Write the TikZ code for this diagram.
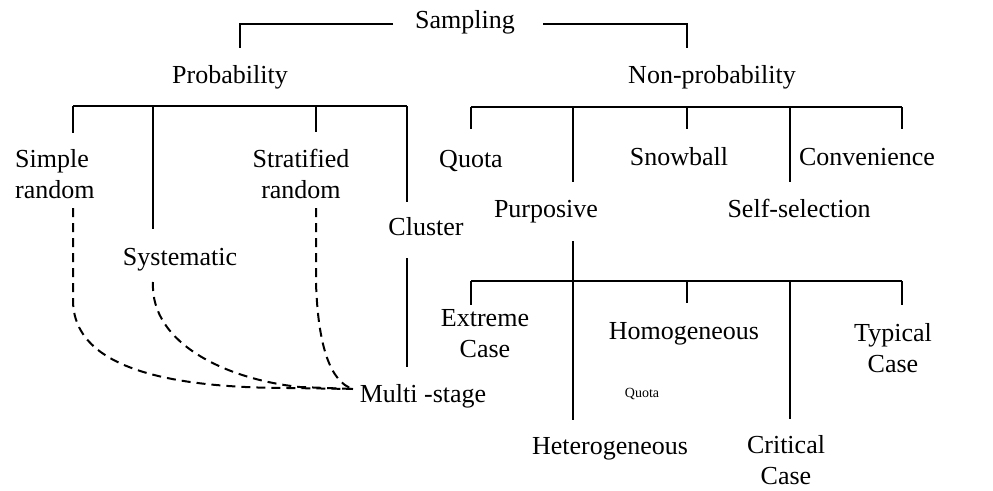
\documentclass[tikz,border=0pt]{standalone}
\usepackage{fontspec}
\setmainfont{Liberation Serif}
\begin{document}
\begin{tikzpicture}[x=1pt,y=-1pt,
  lbl/.style={font=\fontsize{26}{31}\selectfont, align=center, inner sep=0pt},
  small/.style={font=\fontsize{14}{16}\selectfont, inner sep=0pt},
  ln/.style={line width=1.9pt},
  dsh/.style={line width=2pt, dash pattern=on 9pt off 6pt}]
\useasboundingbox (0,0) rectangle (993,490);
% labels
\node[lbl, anchor=base] (samp) at (465,28) {Sampling};
\node[lbl, anchor=base] (prob) at (230,83) {Probability};
\node[lbl, anchor=base] (nonp) at (712,83) {Non-probability};
\node[lbl, align=left, anchor=west] (simp) at (15,174) {Simple\\random};
\node[lbl] (strat) at (301,174) {Stratified\\random};
\node[lbl, anchor=base] (syst) at (180,265) {Systematic};
\node[lbl, anchor=base] (clus) at (426,235) {Cluster};
\node[lbl, anchor=base] (multi) at (423,402) {Multi -stage};
\node[lbl, anchor=base] (quota) at (471,167) {Quota};
\node[lbl, anchor=base] (snow) at (679,165) {Snowball};
\node[lbl, anchor=base] (conv) at (867,165) {Convenience};
\node[lbl, anchor=base] (purp) at (546,217) {Purposive};
\node[lbl, anchor=base] (self) at (799,217) {Self-selection};
\node[lbl] (extr) at (485,334) {Extreme\\Case};
\node[lbl, anchor=base] (homo) at (684,339) {Homogeneous};
\node[lbl] (typ) at (893,348) {Typical\\Case};
\node[small, anchor=base] (quota2) at (642,397) {Quota};
\node[lbl, anchor=base] (hete) at (610,454) {Heterogeneous};
\node[lbl] (crit) at (786,460) {Critical\\Case};
% coordinates
\coordinate (sL) at (393,24); \coordinate (sR) at (543,24);
\coordinate (pTop) at (240,48); \coordinate (nTop) at (687,48);
\coordinate (pb1) at (73,106); \coordinate (pb2) at (153,106);
\coordinate (pb3) at (316,106); \coordinate (pb4) at (407,106);
\coordinate (simpTop) at (73,133); \coordinate (systTop) at (153,229);
\coordinate (stratTop) at (316,132); \coordinate (clusTop) at (407,202);
\coordinate (clusBot1) at (407,258); \coordinate (clusBot2) at (407,367);
\coordinate (nb1) at (471,107); \coordinate (nb2) at (573,107);
\coordinate (nb3) at (687,107); \coordinate (nb4) at (790,107);
\coordinate (nb5) at (902,107);
\coordinate (quotaTop) at (471,129); \coordinate (purpTop) at (573,182);
\coordinate (snowTop) at (687,129); \coordinate (selfTop) at (790,182);
\coordinate (convTop) at (902,129);
\coordinate (purpBot) at (573,241); \coordinate (heteTop) at (573,420);
\coordinate (ub1) at (471,281); \coordinate (ub2) at (573,281);
\coordinate (ub3) at (687,281); \coordinate (ub4) at (790,281);
\coordinate (ub5) at (902,281);
\coordinate (extrTop) at (471,305); \coordinate (homoTop) at (687,303);
\coordinate (critTop) at (790,419); \coordinate (typTop) at (902,305);
\coordinate (mEnd) at (353,389);
% solid connectors
\draw[ln] (sL) -| (pTop);
\draw[ln] (sR) -| (nTop);
\draw[ln] (pb1) -- (pb4);
\draw[ln] (pb1) -- (simpTop);
\draw[ln] (pb2) -- (systTop);
\draw[ln] (pb3) -- (stratTop);
\draw[ln] (pb4) -- (clusTop);
\draw[ln] (clusBot1) -- (clusBot2);
\draw[ln] (nb1) -- (nb5);
\draw[ln] (nb1) -- (quotaTop);
\draw[ln] (nb2) -- (purpTop);
\draw[ln] (nb3) -- (snowTop);
\draw[ln] (nb4) -- (selfTop);
\draw[ln] (nb5) -- (convTop);
\draw[ln] (purpBot) -- (heteTop);
\draw[ln] (ub1) -- (ub5);
\draw[ln] (ub1) -- (extrTop);
\draw[ln] (ub3) -- (homoTop);
\draw[ln] (ub4) -- (critTop);
\draw[ln] (ub5) -- (typTop);
% dashed connectors to Multi-stage
\draw[dsh] (73,208) -- (73,300) .. controls (73,372) and (180,388) .. (290,388) -- (mEnd);
\draw[dsh] (153,282) .. controls (150,345) and (230,380) .. (300,387) -- (mEnd);
\draw[dsh] (316,208) -- (316,283) .. controls (318,345) and (330,382) .. (mEnd);
\end{tikzpicture}
\end{document}
